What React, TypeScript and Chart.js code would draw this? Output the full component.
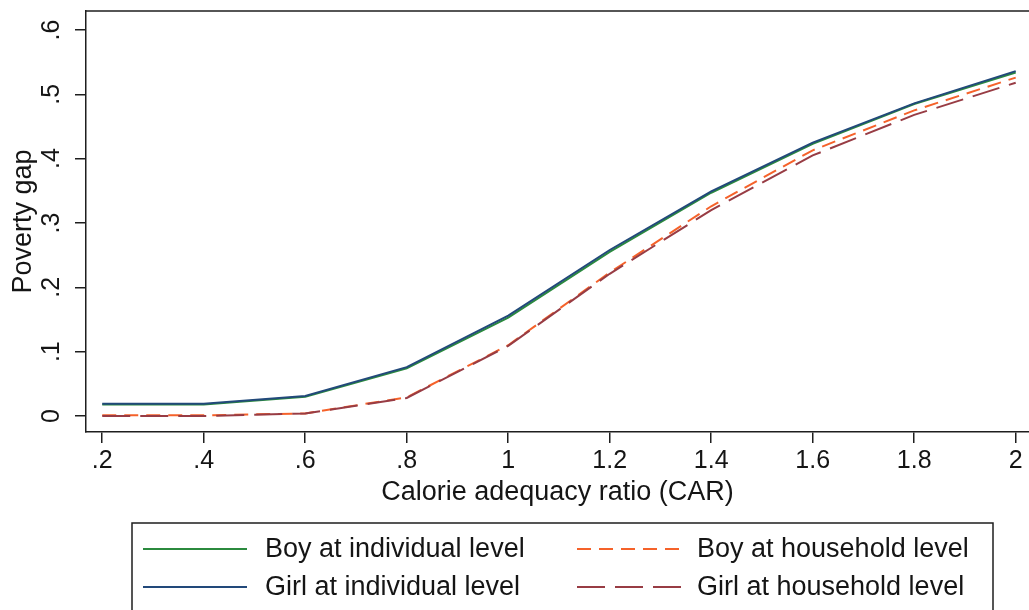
import React, { useEffect, useRef } from "react";
import { Chart, registerables } from "chart.js";

Chart.register(...registerables);

// ---- data ----
const carValues = [0.2, 0.4, 0.6, 0.8, 1.0, 1.2, 1.4, 1.6, 1.8, 2.0];
const boyIndividual = [0.018, 0.018, 0.030, 0.074, 0.153, 0.255, 0.347, 0.423, 0.485, 0.534];
const girlIndividual = [0.019, 0.019, 0.031, 0.076, 0.156, 0.258, 0.349, 0.425, 0.486, 0.536];
const boyHousehold = [0.001, 0.001, 0.004, 0.029, 0.110, 0.223, 0.326, 0.413, 0.475, 0.526];
const girlHousehold = [0.000, 0.000, 0.004, 0.028, 0.109, 0.221, 0.320, 0.405, 0.468, 0.518];

const seriesLabels = [
  "Boy at individual level",
  "Girl at individual level",
  "Boy at household level",
  "Girl at household level",
];

const xTickValues = [0.2, 0.4, 0.6, 0.8, 1.0, 1.2, 1.4, 1.6, 1.8, 2.0];
const xTickLabels = [".2", ".4", ".6", ".8", "1", "1.2", "1.4", "1.6", "1.8", "2"];
const yTickValues = [0, 0.1, 0.2, 0.3, 0.4, 0.5, 0.6];
const yTickLabels = ["0", ".1", ".2", ".3", ".4", ".5", ".6"];

const xTitle = "Calorie adequacy ratio (CAR)";
const yTitle = "Poverty gap";

// ---- styles ----
const FONT = "'Liberation Sans', Arial, sans-serif";
const TEXT = "#151515";
const AXIS = "#1e1e1e";

const toPoints = (ys: number[]) => carValues.map((x, i) => ({ x, y: ys[i] }));

const framePlugin = {
  id: "frameTop",
  afterDatasetsDraw(chart: any) {
    const { ctx, chartArea } = chart;
    ctx.save();
    ctx.strokeStyle = AXIS;
    ctx.lineWidth = 1.5;
    ctx.beginPath();
    ctx.moveTo(chartArea.left, chartArea.top);
    ctx.lineTo(chartArea.right + 2, chartArea.top);
    ctx.stroke();
    ctx.restore();
  },
};

const legendPlugin = {
  id: "boxLegend",
  afterDraw(chart: any) {
    const { ctx } = chart;
    const boxL = 132, boxT = 523, boxR = 993, boxB = 640;
    ctx.save();
    ctx.fillStyle = "#ffffff";
    ctx.fillRect(boxL, boxT, boxR - boxL, boxB - boxT);
    ctx.strokeStyle = AXIS;
    ctx.lineWidth = 1.5;
    ctx.strokeRect(boxL, boxT, boxR - boxL, boxB - boxT);
    const colLineX = [143, 577];
    const colTextX = [265, 697];
    const rowY = [549, 587];
    const lineLen = 104;
    chart.data.datasets.forEach((ds: any, i: number) => {
      const col = Math.floor(i / 2);
      const row = i % 2;
      const y = rowY[row];
      ctx.save();
      ctx.strokeStyle = ds.borderColor;
      ctx.lineWidth = ds.borderWidth;
      ctx.setLineDash(ds.borderDash || []);
      ctx.beginPath();
      ctx.moveTo(colLineX[col], y);
      ctx.lineTo(colLineX[col] + lineLen, y);
      ctx.stroke();
      ctx.restore();
      ctx.fillStyle = TEXT;
      ctx.font = `27px ${FONT}`;
      ctx.textAlign = "left";
      ctx.textBaseline = "middle";
      ctx.fillText(ds.label, colTextX[col], y + 1);
    });
    ctx.restore();
  },
};

const bgPlugin = {
  id: "bg",
  beforeDraw(chart: any) {
    const { ctx, width, height } = chart;
    ctx.save();
    ctx.fillStyle = "#ffffff";
    ctx.fillRect(0, 0, width, height);
    ctx.restore();
  },
};

export default function App() {
  const ref = useRef<HTMLCanvasElement>(null);

  useEffect(() => {
    if (!ref.current) return;
    const chart = new Chart(ref.current, {
      type: "line",
      data: {
        datasets: [
          {
            label: seriesLabels[0],
            data: toPoints(boyIndividual),
            borderColor: "#2b8a3e",
            borderWidth: 2,
            pointRadius: 0,
            order: 1,
          },
          {
            label: seriesLabels[1],
            data: toPoints(girlIndividual),
            borderColor: "#22497a",
            borderWidth: 2,
            pointRadius: 0,
            order: 0,
          },
          {
            label: seriesLabels[2],
            data: toPoints(boyHousehold),
            borderColor: "#f5622a",
            borderWidth: 2,
            borderDash: [14, 8],
            pointRadius: 0,
            order: 1,
          },
          {
            label: seriesLabels[3],
            data: toPoints(girlHousehold),
            borderColor: "#983c44",
            borderWidth: 2,
            borderDash: [28, 10],
            pointRadius: 0,
            order: 0,
          },
        ],
      },
      options: {
        responsive: false,
        animation: false,
        layout: { padding: { top: 11, left: 0, right: 0, bottom: 100 } },
        plugins: {
          legend: { display: false },
          tooltip: { enabled: false },
        },
        elements: { line: { tension: 0 } },
        scales: {
          x: {
            type: "linear",
            min: 0.168,
            max: 2.0262,
            afterBuildTicks: (s: any) => {
              s.ticks = xTickValues.map((v) => ({ value: v }));
            },
            afterFit: (s: any) => {
              s.height = 78;
              s.paddingLeft = 0;
              s.paddingRight = 0;
            },
            ticks: {
              autoSkip: false,
              maxRotation: 0,
              minRotation: 0,
              padding: 3,
              color: TEXT,
              font: { family: FONT, size: 25, lineHeight: 1.2 },
              callback: (v: any) => {
                const i = xTickValues.findIndex((t) => Math.abs(t - Number(v)) < 1e-6);
                return i >= 0 ? xTickLabels[i] : "";
              },
            },
            grid: {
              drawOnChartArea: false,
              drawTicks: true,
              tickLength: 11,
              color: AXIS,
              lineWidth: 1.5,
            },
            border: { display: true, color: AXIS, width: 1.5 },
            title: {
              display: true,
              text: xTitle,
              color: TEXT,
              font: { family: FONT, size: 27, lineHeight: 1.2 },
              padding: { top: 0, bottom: 1 },
            },
          },
          y: {
            type: "linear",
            min: -0.0249,
            max: 0.6295,
            afterBuildTicks: (s: any) => {
              s.ticks = yTickValues.map((v) => ({ value: v }));
            },
            afterFit: (s: any) => {
              s.width = 86;
              s.paddingTop = 0;
              s.paddingBottom = 0;
            },
            ticks: {
              autoSkip: false,
              minRotation: 90,
              maxRotation: 90,
              crossAlign: "center",
              padding: 12,
              color: TEXT,
              font: { family: FONT, size: 25, lineHeight: 1.2 },
              callback: (v: any) => {
                const i = yTickValues.findIndex((t) => Math.abs(t - Number(v)) < 1e-6);
                return i >= 0 ? yTickLabels[i] : "";
              },
            },
            grid: {
              drawOnChartArea: false,
              drawTicks: true,
              tickLength: 11,
              color: AXIS,
              lineWidth: 1.5,
            },
            border: { display: true, color: AXIS, width: 1.5 },
            title: {
              display: true,
              text: yTitle,
              color: TEXT,
              font: { family: FONT, size: 27, lineHeight: 1.2 },
              padding: { top: 7, bottom: 0 },
            },
          },
        },
      },
      plugins: [bgPlugin, framePlugin, legendPlugin],
    });
    return () => chart.destroy();
  }, []);

  return (
    <div style={{ position: "fixed", left: 0, top: 0, width: 1029, height: 610, background: "#fff" }}>
      <canvas ref={ref} width={1029} height={610} style={{ display: "block" }} />
    </div>
  );
}
